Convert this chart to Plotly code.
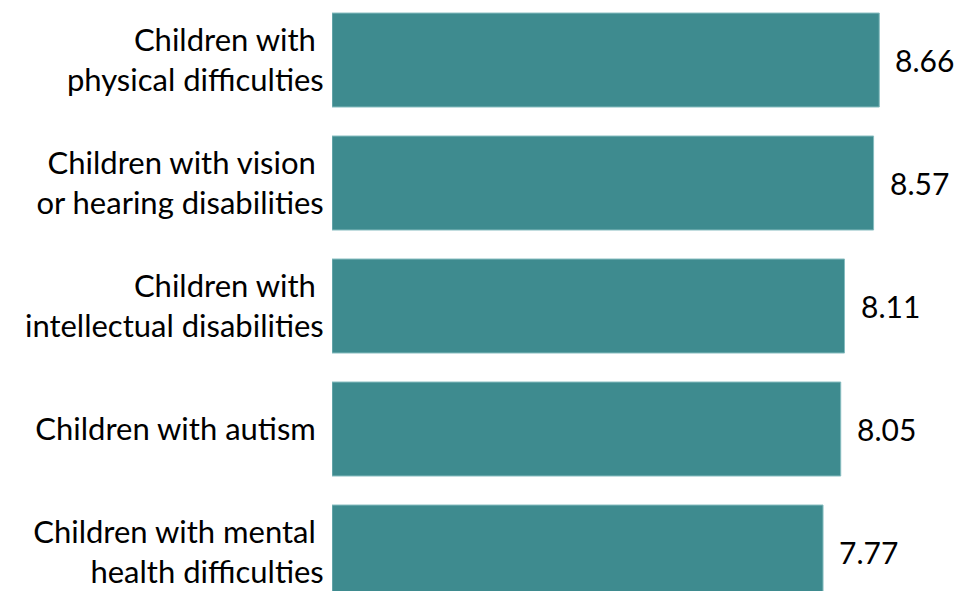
import plotly.graph_objects as go

categories = [
    "Children with\u00a0<br>physical difficulties",
    "Children with vision\u00a0<br>or hearing disabilities",
    "Children with\u00a0<br>intellectual disabilities",
    "Children with autism\u00a0",
    "Children with mental\u00a0<br>health difficulties",
]
values = [8.66, 8.57, 8.11, 8.05, 7.77]
value_labels = ["8.66", "8.57", "8.11", "8.05", "7.77"]

FONT = "Lato, 'Open Sans', sans-serif"
BAR = "#3e8b8f"

fig = go.Figure()
fig.add_trace(go.Bar(
    x=values,
    y=categories,
    orientation="h",
    marker=dict(color=BAR, line=dict(color="#86bcbf", width=1)),
    hoverinfo="skip",
))

for c, v, t in zip(categories, values, value_labels):
    fig.add_annotation(
        x=v, y=c, text=t, showarrow=False,
        xanchor="left", yanchor="middle", xshift=14,
        font=dict(family=FONT, size=30, color="#000000"),
    )

fig.update_layout(
    width=957, height=591,
    margin=dict(l=332, r=0, t=0, b=0, autoexpand=False),
    paper_bgcolor="white", plot_bgcolor="white",
    showlegend=False,
    bargap=0.236,
    font=dict(family=FONT, size=31, color="#000000"),
)
fig.update_xaxes(range=[0, 9.89], visible=False, showgrid=False, zeroline=False,
                 automargin=False)
fig.update_yaxes(
    categoryorder="array", categoryarray=categories,
    range=[4.317, -0.488], automargin=False,
    showgrid=False, zeroline=False, showline=False,
    ticks="outside", ticklen=1, tickcolor="rgba(0,0,0,0)",
    tickfont=dict(family=FONT, size=31, color="#000000"),
)

fig.write_html("out.html",
               config={"displayModeBar": False},
               post_script="document.body.style.margin='0';document.body.style.overflow='hidden';")
